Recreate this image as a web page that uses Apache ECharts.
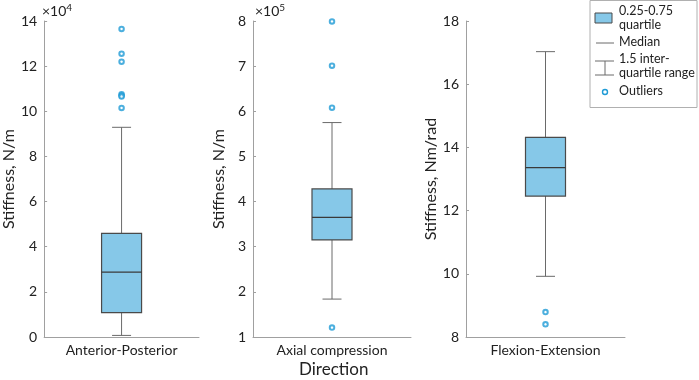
<!DOCTYPE html>
<html>
<head>
<meta charset="utf-8">
<script src="https://cdn.jsdelivr.net/npm/echarts@6/dist/echarts.min.js"></script>
<style>html,body{margin:0;padding:0;background:#fff}#c{width:699px;height:380px}</style>
</head>
<body>
<div id="c"></div>
<script>
// ---- data ----
const categories = ['Anterior-Posterior', 'Axial compression', 'Flexion-Extension'];
const yTitles = ['Stiffness, N/m', 'Stiffness, N/m', 'Stiffness, Nm/rad'];
const exponents = ['4', '5', null];
// [lowerWhisker, Q1, median, Q3, upperWhisker] (AP in ×10^4, axial in ×10^5)
const boxAP = [0.07, 1.08, 2.87, 4.59, 9.29];
const boxAxial = [1.84, 3.15, 3.65, 4.28, 5.75];
const boxFlex = [9.92, 12.46, 13.36, 14.32, 17.03];
const outAP = [13.65, 12.55, 12.2, 10.75, 10.7, 10.65, 10.15];
const outAxial = [7.99, 7.01, 6.08, 1.21];
const outFlex = [8.79, 8.40];
const yRanges = [[0, 14, 2], [1, 8, 1], [8, 18, 2]];
const legendLabels = ['0.25-0.75\nquartile', 'Median', '1.5 inter-\nquartile range', 'Outliers'];

const boxes = [boxAP, boxAxial, boxFlex];
const outs = [outAP, outAxial, outFlex];

const FONT = 'Lato';
const grids = [
  {left: 40, top: 21, width: 159, height: 316},
  {left: 253, top: 21, width: 158, height: 316},
  {left: 466, top: 21, width: 159, height: 316}
];
const BOX_W = 40, CAP_W = 19;
const fillC = '#86c8e8', edgeC = '#4a4a4a', whiskC = '#6a6a6a', outC = '#1f9bd6';

const chart = echarts.init(document.getElementById('c'), null, {renderer: 'canvas'});

function renderBox(params, api) {
  const x = api.value(0);
  const lo = api.coord([x, api.value(1)]);
  const q1 = api.coord([x, api.value(2)]);
  const md = api.coord([x, api.value(3)]);
  const q3 = api.coord([x, api.value(4)]);
  const hi = api.coord([x, api.value(5)]);
  const cx = lo[0];
  const ls = {stroke: whiskC, lineWidth: 1};
  return {type: 'group', children: [
    {type: 'line', shape: {x1: cx, y1: hi[1], x2: cx, y2: q3[1]}, style: ls},
    {type: 'line', shape: {x1: cx, y1: q1[1], x2: cx, y2: lo[1]}, style: ls},
    {type: 'line', shape: {x1: cx - CAP_W/2, y1: hi[1], x2: cx + CAP_W/2, y2: hi[1]}, style: ls},
    {type: 'line', shape: {x1: cx - CAP_W/2, y1: lo[1], x2: cx + CAP_W/2, y2: lo[1]}, style: ls},
    {type: 'rect', shape: {x: cx - BOX_W/2, y: q3[1], width: BOX_W, height: q1[1] - q3[1]},
      style: {fill: fillC, stroke: edgeC, lineWidth: 1.2}},
    {type: 'line', shape: {x1: cx - BOX_W/2, y1: md[1], x2: cx + BOX_W/2, y2: md[1]},
      style: {stroke: '#3a3a3a', lineWidth: 1.2}}
  ]};
}

const xAxes = [], yAxes = [], series = [];
categories.forEach((cat, i) => {
  xAxes.push({
    gridIndex: i, type: 'category', data: [cat], boundaryGap: true,
    axisLine: {lineStyle: {color: '#a0a0a0'}}, axisTick: {show: false},
    axisLabel: {color: '#222', fontFamily: FONT, fontSize: 14, margin: 6}
  });
  yAxes.push({
    gridIndex: i, type: 'value', min: yRanges[i][0], max: yRanges[i][1], interval: yRanges[i][2],
    splitLine: {show: false},
    axisLine: {show: true, lineStyle: {color: '#a0a0a0'}},
    axisTick: {show: true, inside: true, length: 3, lineStyle: {color: '#a0a0a0'}},
    axisLabel: {color: '#222', fontFamily: FONT, fontSize: 14, margin: 7},
    name: yTitles[i], nameLocation: 'middle', nameGap: i === 2 ? 24 : 26,
    nameTextStyle: {color: '#222', fontFamily: FONT, fontSize: 16}
  });
  series.push({
    type: 'custom', xAxisIndex: i, yAxisIndex: i,
    data: [[0].concat(boxes[i])], renderItem: renderBox, silent: true
  });
  series.push({
    type: 'scatter', xAxisIndex: i, yAxisIndex: i,
    data: outs[i].map(v => [0, v]), symbol: 'emptyCircle', symbolSize: 4.5,
    itemStyle: {color: outC, borderColor: outC, borderWidth: 1.1}, silent: true
  });
});

const graphics = [];
exponents.forEach((e, i) => {
  if (!e) return;
  graphics.push({type: 'text', left: grids[i].left + 2, top: 3,
    style: {text: '×10{s|' + e + '}', fill: '#222', font: '14px "' + FONT + '"',
      rich: {s: {fontSize: 10, verticalAlign: 'top', fill: '#222', fontFamily: FONT, padding: [0,0,6,0]}}}});
});
graphics.push({type: 'text', left: 299, top: 361,
  style: {text: 'Direction', fill: '#222', font: '17px "' + FONT + '"'}});
// legend
const LX = 590, LY = 0;
graphics.push({type: 'rect', shape: {x: LX, y: LY + 0.5, width: 107, height: 107},
  style: {fill: '#fff', stroke: '#b0b0b0', lineWidth: 1}});
graphics.push({type: 'rect', shape: {x: 595, y: 13, width: 17, height: 10},
  style: {fill: fillC, stroke: edgeC, lineWidth: 1}});
graphics.push({type: 'line', shape: {x1: 596, y1: 43, x2: 614, y2: 43}, style: {stroke: whiskC, lineWidth: 1}});
graphics.push({type: 'line', shape: {x1: 595, y1: 61, x2: 614, y2: 61}, style: {stroke: whiskC, lineWidth: 1}});
graphics.push({type: 'line', shape: {x1: 595, y1: 75, x2: 614, y2: 75}, style: {stroke: whiskC, lineWidth: 1}});
graphics.push({type: 'line', shape: {x1: 605, y1: 61, x2: 605, y2: 75}, style: {stroke: whiskC, lineWidth: 1}});
graphics.push({type: 'circle', shape: {cx: 605, cy: 92, r: 2.5},
  style: {fill: '#fff', stroke: outC, lineWidth: 1.4}});
const legendY = [4, 35, 52, 84];
legendLabels.forEach((t, k) => {
  graphics.push({type: 'text', left: 619, top: legendY[k],
    style: {text: t, fill: '#222', font: '12.5px "' + FONT + '"', lineHeight: 14}});
});

chart.setOption({
  animation: false,
  backgroundColor: '#fff',
  grid: grids,
  xAxis: xAxes,
  yAxis: yAxes,
  series: series,
  graphic: graphics
});
</script>
</body>
</html>
